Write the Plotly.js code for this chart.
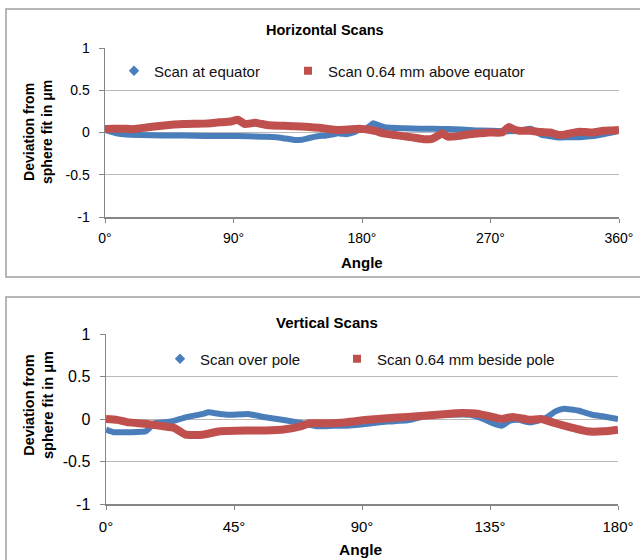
<!DOCTYPE html>
<html><head><meta charset="utf-8">
<script src="https://cdn.plot.ly/plotly-3.0.1.min.js"></script>
<style>body{margin:0;background:#fff}#chart{width:640px;height:560px}</style>
</head><body><div id="chart"></div><script>
// ---- Horizontal scans ----
const hEqAngle = [0,4,8,15,25,40,55,70,85,100,110,120,126,130,134,138,143,149,155,160,163,166,169,174,178,182,185,188,191,195,200,210,220,230,240,250,260,270,280,290,298,302,306,312,318,325,332,340,349,355,360];
const hEqDev   = [0.03,0.01,-0.01,-0.025,-0.03,-0.035,-0.035,-0.04,-0.04,-0.045,-0.05,-0.055,-0.07,-0.08,-0.09,-0.085,-0.065,-0.045,-0.035,-0.02,-0.01,-0.015,-0.02,0.0,0.03,0.04,0.07,0.11,0.09,0.065,0.055,0.05,0.045,0.045,0.04,0.035,0.025,0.02,0.015,0.02,0.045,0.01,-0.03,-0.045,-0.06,-0.055,-0.055,-0.045,-0.02,0.0,0.02];
const hAbvAngle = [0,5,12,20,29,40,55,69,80,88,93,98,105,110,115,125,132,143,150,155,163,170,178,186,190,195,203,212,218,224,229,233,236,240,248,255,262,269,278,283,286,290,298,305,312,318,322,326,332,341,349,355,360];
const hAbvDev   = [0.04,0.045,0.045,0.04,0.06,0.08,0.1,0.105,0.12,0.13,0.15,0.1,0.115,0.1,0.085,0.08,0.075,0.065,0.055,0.045,0.03,0.035,0.045,0.03,0.015,-0.01,-0.03,-0.05,-0.065,-0.08,-0.075,-0.04,-0.01,-0.05,-0.04,-0.02,-0.01,0.0,0.0,0.065,0.04,0.02,0.02,0.005,0.0,-0.03,-0.025,-0.01,0.01,0.0,0.02,0.025,0.03];
const hTickVals = [0,90,180,270,360];
const hTickText = ['0°','90°','180°','270°','360°'];

// ---- Vertical scans ----
const vPoleAngle = [0,2.6,8,14,17,20,23,28,34,36,40,43,50,56,63,69,74,80,84,92,99,106,113,120,128,132,136,139,142,145,149,152,155,158,161,166,171,175,180];
const vPoleDev   = [-0.125,-0.155,-0.155,-0.145,-0.05,-0.04,-0.03,0.02,0.06,0.08,0.06,0.05,0.06,0.02,-0.015,-0.05,-0.085,-0.08,-0.08,-0.055,-0.03,-0.015,0.04,0.05,0.05,0.01,-0.05,-0.08,-0.02,-0.01,-0.04,-0.02,0.02,0.09,0.12,0.1,0.05,0.03,0.0];
const vBesAngle = [0,4,8,14,20,24,28,34,40,49,56,63,69,71.5,77,84,92,99,106,113,120,125,131,135,139,143,149,153,158,164,169,175,180];
const vBesDev   = [0,-0.01,-0.04,-0.055,-0.085,-0.105,-0.185,-0.185,-0.145,-0.135,-0.135,-0.12,-0.08,-0.05,-0.05,-0.04,-0.01,0.01,0.025,0.04,0.06,0.07,0.06,0.03,0,0.025,-0.01,0,-0.05,-0.105,-0.145,-0.145,-0.125];
const vTickVals = [0,45,90,135,180];
const vTickText = ['0°','45°','90°','135°','180°'];

const yTickVals = [-1,-0.5,0,0.5,1];
const yTickText = ['-1','-0.5','0','0.5','1'];

const names = ['Scan at equator','Scan 0.64 mm above equator','Scan over pole','Scan 0.64 mm beside pole'];

const BLUE = '#4a7ebb', RED = '#c0504d';
const FONT = 'Liberation Sans, Arial, sans-serif';
const W = 640, H = 560;
const px = v => v / W, py = v => 1 - v / H;

const traces = [
  {x: hEqAngle, y: hEqDev, xaxis:'x', yaxis:'y', mode:'lines', line:{color:BLUE, width:6, shape:'spline', smoothing:0.4}, showlegend:false, hoverinfo:'skip'},
  {x: hAbvAngle, y: hAbvDev, xaxis:'x', yaxis:'y', mode:'lines', line:{color:RED, width:8, shape:'spline', smoothing:0.4}, showlegend:false, hoverinfo:'skip'},
  {x: vPoleAngle, y: vPoleDev, xaxis:'x2', yaxis:'y2', mode:'lines', line:{color:BLUE, width:6, shape:'spline', smoothing:0.4}, showlegend:false, hoverinfo:'skip'},
  {x: vBesAngle, y: vBesDev, xaxis:'x2', yaxis:'y2', mode:'lines', line:{color:RED, width:8, shape:'spline', smoothing:0.4}, showlegend:false, hoverinfo:'skip'},
  // legend entries
  {x:[null], y:[null], xaxis:'x', yaxis:'y', mode:'markers', name:names[0], marker:{symbol:'diamond', size:8, color:BLUE}, legend:'legend'},
  {x:[null], y:[null], xaxis:'x', yaxis:'y', mode:'markers', name:names[1], marker:{symbol:'square', size:8, color:RED}, legend:'legend2'},
  {x:[null], y:[null], xaxis:'x2', yaxis:'y2', mode:'markers', name:names[2], marker:{symbol:'diamond', size:8, color:BLUE}, legend:'legend3'},
  {x:[null], y:[null], xaxis:'x2', yaxis:'y2', mode:'markers', name:names[3], marker:{symbol:'square', size:8, color:RED}, legend:'legend4'}
];

function xAx(domain, vals, text, size, anchor){
  return {domain, range:[vals[0], vals[vals.length-1]], tickvals:vals, ticktext:text, anchor,
    showgrid:false, zeroline:false, showline:true, linecolor:'#868686', linewidth:1.5,
    ticks:'outside', ticklen:4, tickcolor:'#868686', tickwidth:1, ticklabelstandoff:4,
    tickfont:{family:FONT, size, color:'#000'}, fixedrange:true};
}
function yAx(domain, size, anchor){
  return {domain, range:[-1,1], tickvals:yTickVals, ticktext:yTickText, anchor,
    showgrid:true, gridcolor:'#b9b9b9', gridwidth:1, zeroline:false, showline:true, linecolor:'#868686', linewidth:1.5,
    ticks:'outside', ticklen:5, tickcolor:'#868686', tickwidth:1, ticklabelstandoff:6,
    tickfont:{family:FONT, size, color:'#000'}, fixedrange:true};
}
function leg(x, y, size){
  return {x:px(x), y:py(y), xanchor:'left', yanchor:'middle', orientation:'h', bgcolor:'rgba(0,0,0,0)',
    borderwidth:0, font:{family:FONT, size, color:'#111'}, itemclick:false, itemdoubleclick:false};
}
const ann = (text, x, y, size, angle) => ({text:'<b>'+text+'</b>', x:px(x), y:py(y), xref:'paper', yref:'paper',
  showarrow:false, xanchor:'center', yanchor:'middle', textangle:angle||0, font:{family:FONT, size, color:'#000'}});

const layout = {
  width:W, height:H, margin:{l:0,r:0,t:0,b:0}, paper_bgcolor:'#fff', plot_bgcolor:'#fff',
  xaxis: xAx([px(105), px(619)], hTickVals, hTickText, 14, 'y'),
  yaxis: yAx([py(217), py(48)], 14, 'x'),
  xaxis2: xAx([px(106), px(618)], vTickVals, vTickText, 15, 'y2'),
  yaxis2: yAx([py(504), py(334)], 16, 'x2'),
  legend: leg(114, 71, 15),
  legend2: leg(288, 71, 15),
  legend3: leg(160, 359, 15),
  legend4: leg(337, 359, 15),
  annotations: [
    ann('Horizontal Scans', 325, 30, 14.5),
    ann('Angle', 362, 262, 15),
    ann('Deviation from<br>sphere fit in μm', 38, 132, 14, -90),
    ann('Vertical Scans', 327, 322, 15),
    ann('Angle', 360, 549, 15.5),
    ann('Deviation from<br>sphere fit in μm', 38, 405, 14.5, -90)
  ],
  shapes: [
    {type:'rect', xref:'paper', yref:'paper', x0:px(6), x1:1.05, y0:py(277), y1:py(9), line:{color:'#a0a0a0', width:1.5}, layer:'below'},
    {type:'rect', xref:'paper', yref:'paper', x0:px(6), x1:1.05, y0:-0.05, y1:py(297), line:{color:'#a0a0a0', width:1.5}, layer:'below'}
  ]
};

Plotly.newPlot('chart', traces, layout, {displayModeBar:false, staticPlot:true});
</script></body></html>
